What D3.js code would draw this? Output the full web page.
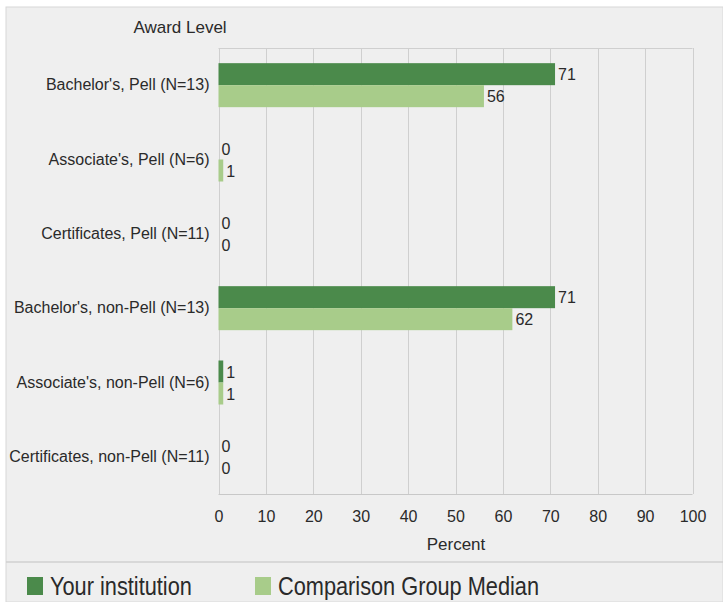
<!DOCTYPE html>
<html><head><meta charset="utf-8">
<script src="https://cdn.jsdelivr.net/npm/d3@7"></script>
<style>
body{margin:0;background:#fff;}
text{font-family:"Liberation Sans",Arial,sans-serif;fill:#2a2a2a;}
</style></head>
<body>
<svg id="c" width="723" height="602"></svg>
<script>
const categories = ["Bachelor's, Pell (N=13)","Associate's, Pell (N=6)","Certificates, Pell (N=11)","Bachelor's, non-Pell (N=13)","Associate's, non-Pell (N=6)","Certificates, non-Pell (N=11)"];
const yourInstitution = [71,0,0,71,1,0];
const comparisonMedian = [56,1,0,62,1,0];
const seriesNames = ["Your institution","Comparison Group Median"];
const xTicks = [0,10,20,30,40,50,60,70,80,90,100];

const colors = ["#4b8a4b","#a8cc8a"];
const svg = d3.select("#c");
svg.append("rect").attr("x",6).attr("y",7).attr("width",717).attr("height",595).attr("fill","#efefef").attr("stroke","#d8d8d8");
svg.append("line").attr("x1",6).attr("x2",723).attr("y1",562).attr("y2",562).attr("stroke","#d0d0d0").attr("stroke-width",1.5);

const x = d3.scaleLinear().domain([0,100]).range([218.5,692.5]);
const y = d3.scaleBand().domain(categories).range([48,494]);
const barH = 22;
const g = svg.append("g");

// grid
g.selectAll(".grid").data(xTicks).join("line")
  .attr("x1",d=>Math.round(x(d))+0.5).attr("x2",d=>Math.round(x(d))+0.5)
  .attr("y1",48).attr("y2",494).attr("stroke","#cfcfcf");
g.append("line").attr("x1",x(0)).attr("x2",x(100)).attr("y1",48.5).attr("y2",48.5).attr("stroke","#cfcfcf");
g.append("line").attr("x1",x(0)).attr("x2",x(100)).attr("y1",494.5).attr("y2",494.5).attr("stroke","#c8c8c8");

// axis
const xAxis = d3.axisBottom(x).tickValues(xTicks).tickSize(0).tickPadding(17);
const ax = g.append("g").attr("transform","translate(0,494)").call(xAxis);
ax.select(".domain").remove();
ax.selectAll("text").attr("font-size",16).attr("fill","#333").style("font-family","'Liberation Sans',Arial,sans-serif");

const yAxis = d3.axisLeft(y).tickSize(0).tickPadding(9);
const ay = g.append("g").attr("transform",`translate(${x(0)},0)`).call(yAxis);
ay.select(".domain").remove();
ay.selectAll("text").attr("font-size",16).attr("fill","#333").style("font-family","'Liberation Sans',Arial,sans-serif");

svg.append("text").attr("x",180).attr("y",33).attr("text-anchor","middle").attr("font-size",17).text("Award Level");
svg.append("text").attr("x",456).attr("y",550).attr("text-anchor","middle").attr("font-size",17).text("Percent");

const series = [yourInstitution, comparisonMedian];
series.forEach((vals,si)=>{
  const yOff = d => y(d) + y.bandwidth()/2 - barH + si*barH;
  g.selectAll(".bar"+si).data(categories).join("rect")
    .attr("x",x(0)).attr("y",yOff)
    .attr("width",(d,i)=>x(vals[i])-x(0)).attr("height",barH)
    .attr("fill",colors[si]);
  g.selectAll(".lab"+si).data(categories).join("text")
    .attr("x",(d,i)=>x(vals[i])+3).attr("y",d=>yOff(d)+barH/2+6)
    .attr("font-size",16).text((d,i)=>vals[i]);
});

// legend
const lx = [27,255];
seriesNames.forEach((n,i)=>{
  svg.append("rect").attr("x",lx[i]).attr("y",577).attr("width",16).attr("height",18).attr("fill",colors[i]);
  svg.append("text").attr("transform",`translate(${lx[i]+23},595) scale(0.87,1)`).attr("font-size",25).text(n);
});
</script>
</body></html>
